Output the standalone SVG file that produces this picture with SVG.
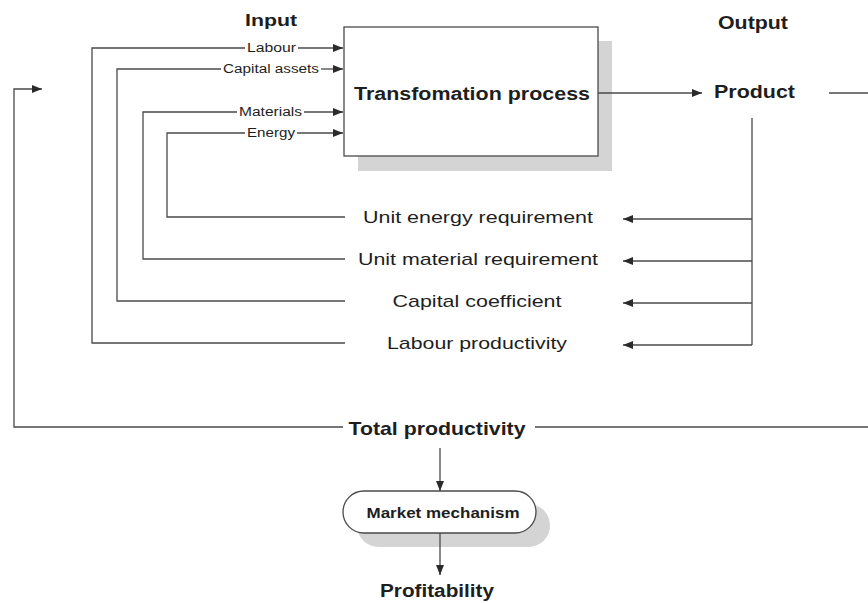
<svg xmlns="http://www.w3.org/2000/svg" width="868" height="603" viewBox="0 0 868 603">
  <style>
    .ln { stroke: #4a4a4a; stroke-width: 1.3; fill: none; }
    .arr { marker-end: url(#tri); }
    .t { font-family: "Liberation Sans", Arial, sans-serif; fill: #1e1e1e; }
    .b { font-weight: bold; }
    .sm { font-size: 12px; }
    .md { font-size: 17px; }
    .shadow { fill: #d4d4d4; }
  </style>
  <defs>
    <marker id="tri" viewBox="0 0 10 8" refX="10" refY="4" markerWidth="10" markerHeight="8" markerUnits="userSpaceOnUse" orient="auto">
      <path d="M0,0 L10,4 L0,8 Z" fill="#2a2a2a"/>
    </marker>
  </defs>
  <rect width="868" height="603" fill="#ffffff"/>

  <!-- headings -->
  <g id="input-heading">
    <text class="t b" x="271" y="26" font-size="17" text-anchor="middle" textLength="52" lengthAdjust="spacingAndGlyphs">Input</text>
  </g>
  <g id="output-heading">
    <text class="t b" x="753" y="29" font-size="18" text-anchor="middle" textLength="70" lengthAdjust="spacingAndGlyphs">Output</text>
  </g>

  <!-- process box with drop shadow -->
  <g id="transformation-process">
    <rect class="shadow" x="358" y="41" width="254" height="130"/>
    <rect x="344" y="27" width="254" height="129" fill="#ffffff" stroke="#4a4a4a" stroke-width="1.3"/>
    <text class="t b" x="472" y="100" font-size="17.5" text-anchor="middle" textLength="236" lengthAdjust="spacingAndGlyphs">Transfomation process</text>
  </g>

  <g id="product">
    <text class="t b" x="714" y="98" font-size="18" textLength="81" lengthAdjust="spacingAndGlyphs">Product</text>
  </g>

  <!-- ratio labels -->
  <g id="unit-energy-requirement">
    <text class="t md" x="478" y="223" text-anchor="middle" textLength="230" lengthAdjust="spacingAndGlyphs">Unit energy requirement</text>
  </g>
  <g id="unit-material-requirement">
    <text class="t md" x="478" y="265" text-anchor="middle" textLength="240" lengthAdjust="spacingAndGlyphs">Unit material requirement</text>
  </g>
  <g id="capital-coefficient">
    <text class="t md" x="477" y="307" text-anchor="middle" textLength="169" lengthAdjust="spacingAndGlyphs">Capital coefficient</text>
  </g>
  <g id="labour-productivity">
    <text class="t md" x="477" y="349" text-anchor="middle" textLength="180" lengthAdjust="spacingAndGlyphs">Labour productivity</text>
  </g>

  <g id="total-productivity">
    <text class="t b" x="437" y="435" font-size="19" text-anchor="middle" textLength="177" lengthAdjust="spacingAndGlyphs">Total productivity</text>
  </g>

  <g id="market-mechanism">
    <rect class="shadow" x="357" y="504" width="193" height="43" rx="21.5"/>
    <rect x="343" y="491" width="193" height="42" rx="21" fill="#ffffff" stroke="#4a4a4a" stroke-width="1.3"/>
    <text class="t b" x="443" y="518" font-size="15" text-anchor="middle" textLength="153" lengthAdjust="spacingAndGlyphs">Market mechanism</text>
  </g>

  <g id="profitability">
    <text class="t b" x="437" y="597" font-size="18" text-anchor="middle" textLength="114" lengthAdjust="spacingAndGlyphs">Profitability</text>
  </g>

  <!-- input labels sitting on their feed lines -->
  <g id="input-labels">
    <text class="t sm" x="271.5" y="52" text-anchor="middle" textLength="49" lengthAdjust="spacingAndGlyphs">Labour</text>
    <text class="t sm" x="271" y="73" text-anchor="middle" textLength="96" lengthAdjust="spacingAndGlyphs">Capital assets</text>
    <text class="t sm" x="270.5" y="116" text-anchor="middle" textLength="63" lengthAdjust="spacingAndGlyphs">Materials</text>
    <text class="t sm" x="271" y="137" text-anchor="middle" textLength="48" lengthAdjust="spacingAndGlyphs">Energy</text>
  </g>

  <g id="connectors">
    <!-- input feed loops -->
    <path class="ln" d="M345,343 H92 V48 H245"/>
    <path class="ln arr" d="M298,48 H343"/>
    <path class="ln" d="M345,301 H117 V69 H221"/>
    <path class="ln arr" d="M321,69 H343"/>
    <path class="ln" d="M345,259 H143 V112 H237"/>
    <path class="ln arr" d="M304,112 H343"/>
    <path class="ln" d="M345,217 H167 V133 H245"/>
    <path class="ln arr" d="M297,133 H343"/>

    <!-- process to product -->
    <path class="ln arr" d="M598,93 H702"/>
    <path class="ln" d="M829,93 H868"/>

    <!-- product distribution to ratios -->
    <path class="ln" d="M752,118 V345"/>
    <path class="ln arr" d="M752,219 H623"/>
    <path class="ln arr" d="M752,261 H623"/>
    <path class="ln arr" d="M752,303 H623"/>
    <path class="ln arr" d="M752,345 H623"/>

    <!-- total productivity feedback -->
    <path class="ln arr" d="M343,427 H14 V89 H42"/>
    <path class="ln" d="M535,427 H868"/>

    <!-- down to market and profitability -->
    <path class="ln arr" d="M440,448 V491"/>
    <path class="ln arr" d="M440,533 V575"/>
  </g>
</svg>
